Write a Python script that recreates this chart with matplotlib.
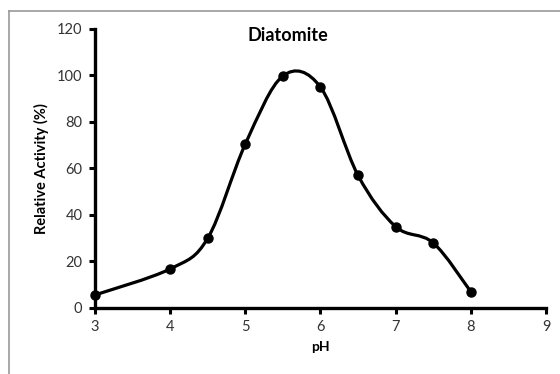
import matplotlib
matplotlib.use('Agg')
import matplotlib.pyplot as plt
from matplotlib.path import Path
from matplotlib.patches import PathPatch
from matplotlib.lines import Line2D

ph = [3, 4, 4.5, 5, 5.5, 6, 6.5, 7, 7.5, 8]
activity = [5.6, 16.8, 30, 70.5, 99.8, 95, 57, 35, 28, 7]
x_ticks = [3, 4, 5, 6, 7, 8, 9]
y_ticks = [0, 20, 40, 60, 80, 100, 120]


def smooth_path(xs, ys, t=1 / 6.0):
    """
    Bezier path through the points, like a spreadsheet smoothed line
    """
    pts = list(zip(xs, ys))
    verts = [pts[0]]
    codes = [Path.MOVETO]
    n = len(pts)
    for i in range(n - 1):
        p0 = pts[i - 1] if i > 0 else pts[i]
        p1 = pts[i]
        p2 = pts[i + 1]
        p3 = pts[i + 2] if i + 2 < n else pts[i + 1]
        c1 = (p1[0] + (p2[0] - p0[0]) * t, p1[1] + (p2[1] - p0[1]) * t)
        c2 = (p2[0] - (p3[0] - p1[0]) * t, p2[1] - (p3[1] - p1[1]) * t)
        verts += [c1, c2, p2]
        codes += [Path.CURVE4] * 3
    return Path(verts, codes)


plt.rcParams['font.family'] = ['Lato', 'DejaVu Sans']

fig = plt.figure(figsize=(5.6, 3.74), dpi=100)
ax = fig.add_axes([0.1696, 0.1765, 0.8054, 0.746])

ax.add_patch(PathPatch(smooth_path(ph, activity), facecolor='none',
                       edgecolor='black', lw=2.3, zorder=3))
ax.plot(ph, activity, linestyle='none', marker='o', ms=6.5,
        color='black', zorder=4, clip_on=False)

ax.set_xlim(3, 9)
ax.set_ylim(0, 120)
ax.set_xticks(x_ticks)
ax.set_yticks(y_ticks)
for side in ['top', 'right']:
    ax.spines[side].set_visible(False)
for side in ['left', 'bottom']:
    ax.spines[side].set_linewidth(2.4)
ax.tick_params(direction='out', length=4, width=2.2, labelsize=10.5,
               labelcolor='#333333', pad=5)

ax.set_xlabel('pH', fontsize=10, fontweight='bold', labelpad=5)
ax.set_ylabel('Relative Activity (%)', fontsize=10.5, fontweight='bold',
              labelpad=6)
fig.text(0.514, 0.905, 'Diatomite', ha='center', va='center',
         fontsize=13, fontweight='bold')

# chart area border (top and left visible)
fig.add_artist(Line2D([0.016, 1.0], [0.971, 0.971], color='#999999', lw=1.2,
                      transform=fig.transFigure))
fig.add_artist(Line2D([0.016, 0.016], [0.0, 0.971], color='#999999', lw=1.2,
                      transform=fig.transFigure))

fig.savefig('out.png', dpi=100)
